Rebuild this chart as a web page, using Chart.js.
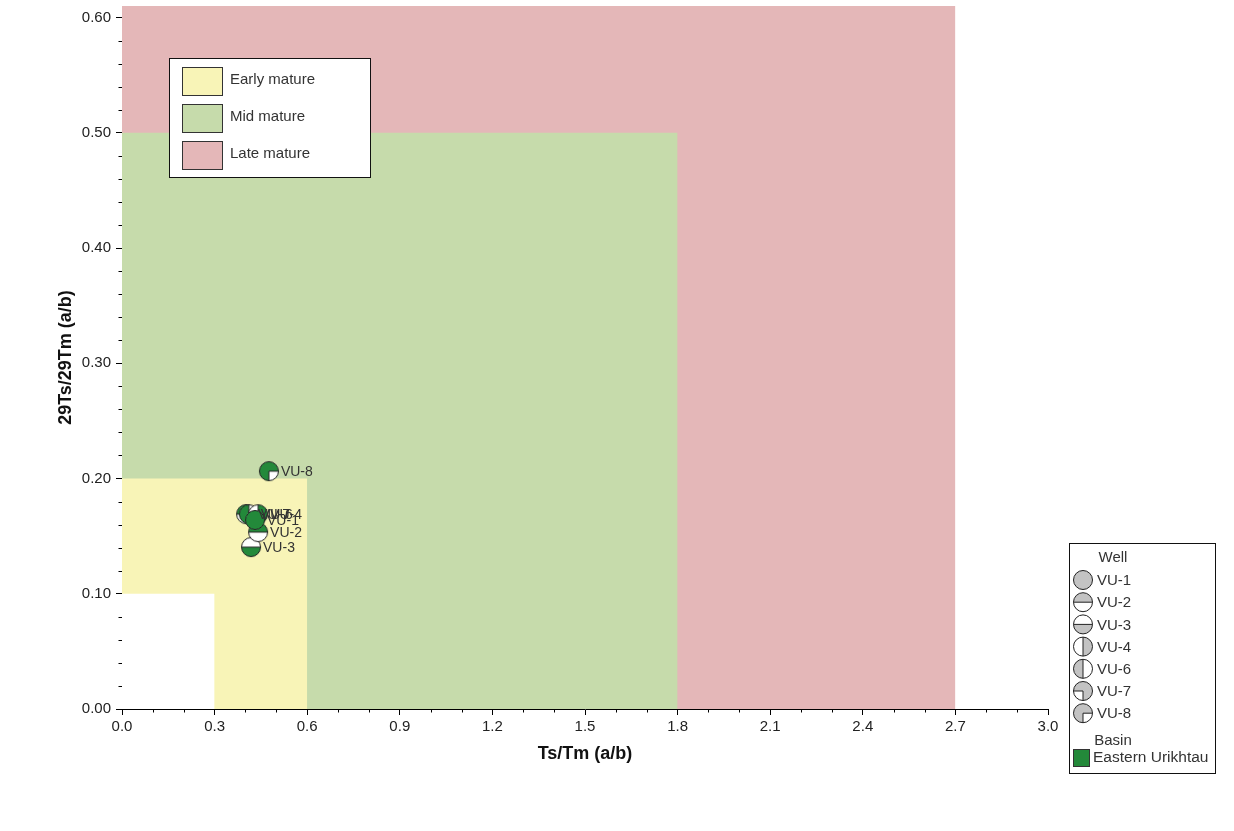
<!DOCTYPE html>
<html>
<head>
<meta charset="utf-8">
<title>Ts/Tm vs 29Ts/29Tm</title>
<script src="https://cdn.jsdelivr.net/npm/chart.js@4.4.1/dist/chart.umd.min.js"></script>
<style>
  body { margin: 0; background: #fff; }
  #wrap { width: 1234px; height: 831px; position: relative; }
</style>
</head>
<body>
<div id="wrap"><canvas id="grafica"></canvas></div>
<script>
// datos de los pozos
const wellNames = ['VU-1', 'VU-2', 'VU-3', 'VU-4', 'VU-6', 'VU-7', 'VU-8'];
const wellTsTm = [0.431, 0.441, 0.418, 0.441, 0.411, 0.402, 0.476];
const wellTs29 = [0.164, 0.1535, 0.1405, 0.169, 0.169, 0.1691, 0.2064];
const basinNames = ['Eastern Urikhtau'];

// zonas de madurez (de fuera hacia dentro)
const zoneNames = ['Late mature', 'Mid mature', 'Early mature', ''];
const zoneXMax = [2.7, 1.8, 0.6, 0.3];
const zoneYMax = [0.61, 0.5, 0.2, 0.1];

// ejes
const xMin = 0, xMax = 3.0, xStep = 0.1, xMajor = 0.3;
const yMin = 0, yMax = 0.61, yStep = 0.02, yMajor = 0.1;

// estilos
const zoneColors = ['#e4b7b8', '#c6dbab', '#f8f4b7', '#ffffff'];
const wellPatterns = ['full', 'top', 'bottom', 'right', 'left', 'noBL', 'noBR'];
const basinColor = '#23893a';
const legendGray = '#c3c3c3';
const txtColor = '#333333';
const FONT = '"Liberation Sans", Arial, sans-serif';

function esMayor(v, paso) {
  var r = v / paso;
  return Math.abs(r - Math.round(r)) < 1e-6;
}

//pinta el simbolo del pozo (circulo con partes blancas)
function pintarSimbolo(ctx, cx, cy, r, color, patron) {
  ctx.save();
  ctx.beginPath();
  ctx.arc(cx, cy, r, 0, Math.PI * 2);
  ctx.fillStyle = '#fff';
  ctx.fill();
  ctx.fillStyle = color;
  ctx.beginPath();
  if (patron == 'full' || patron == 'noBL' || patron == 'noBR') {
    ctx.arc(cx, cy, r, 0, Math.PI * 2);
  } else if (patron == 'top') {
    ctx.arc(cx, cy, r, Math.PI, Math.PI * 2);
  } else if (patron == 'bottom') {
    ctx.arc(cx, cy, r, 0, Math.PI);
  } else if (patron == 'right') {
    ctx.arc(cx, cy, r, -Math.PI / 2, Math.PI / 2);
  } else if (patron == 'left') {
    ctx.arc(cx, cy, r, Math.PI / 2, Math.PI * 1.5);
  }
  ctx.closePath();
  ctx.fill();
  ctx.strokeStyle = '#222';
  ctx.lineWidth = 1;
  if (patron == 'noBL' || patron == 'noBR') {
    ctx.fillStyle = '#fff';
    ctx.beginPath();
    ctx.moveTo(cx, cy);
    if (patron == 'noBL') ctx.arc(cx, cy, r, Math.PI / 2, Math.PI);
    else ctx.arc(cx, cy, r, 0, Math.PI / 2);
    ctx.closePath();
    ctx.fill();
    ctx.beginPath();
    ctx.moveTo(cx, cy + r);
    ctx.lineTo(cx, cy);
    ctx.lineTo(patron == 'noBL' ? cx - r : cx + r, cy);
    ctx.stroke();
  }
  if (patron == 'top' || patron == 'bottom') {
    ctx.beginPath();
    ctx.moveTo(cx - r, cy);
    ctx.lineTo(cx + r, cy);
    ctx.stroke();
  }
  if (patron == 'left' || patron == 'right') {
    ctx.beginPath();
    ctx.moveTo(cx, cy - r);
    ctx.lineTo(cx, cy + r);
    ctx.stroke();
  }
  ctx.beginPath();
  ctx.arc(cx, cy, r, 0, Math.PI * 2);
  ctx.stroke();
  ctx.restore();
}

function crearIcono(color, patron) {
  var c = document.createElement('canvas');
  c.width = 22;
  c.height = 22;
  pintarSimbolo(c.getContext('2d'), 11, 11, 9.5, color, patron);
  return c;
}

// datasets de las zonas
var datasets = [];
zoneNames.forEach((nombre, i) => {
  datasets.push({
    label: nombre || 'zona',
    data: [{x: 0, y: zoneYMax[i]}, {x: zoneXMax[i], y: zoneYMax[i]}, {x: zoneXMax[i], y: 0}],
    showLine: true,
    fill: 'origin',
    backgroundColor: zoneColors[i],
    borderWidth: 0,
    pointRadius: 0,
    order: zoneNames.length - i,
    esZona: true
  });
});

// datasets de los pozos
wellNames.forEach((nombre, i) => {
  datasets.push({
    label: nombre,
    data: [{x: wellTsTm[i], y: wellTs29[i]}],
    pointStyle: crearIcono(basinColor, wellPatterns[i]),
    order: 0
  });
});

// etiquetas junto a los puntos
const etiquetasPlugin = {
  id: 'etiquetas',
  afterDatasetsDraw(chart) {
    var ctx = chart.ctx;
    ctx.save();
    ctx.font = '14px ' + FONT;
    ctx.fillStyle = txtColor;
    ctx.textBaseline = 'middle';
    chart.data.datasets.forEach((ds, i) => {
      if (ds.esZona) return;
      var p = chart.getDatasetMeta(i).data[0];
      ctx.fillText(ds.label, p.x + 12, p.y + 1);
    });
    ctx.restore();
  }
};

// ticks menores
const ticksMenores = {
  id: 'ticksMenores',
  afterDraw(chart) {
    var ctx = chart.ctx;
    var xs = chart.scales.x, ys = chart.scales.y;
    var a = chart.chartArea;
    ctx.save();
    ctx.strokeStyle = '#000';
    ctx.lineWidth = 1;
    ctx.beginPath();
    xs.ticks.forEach(t => {
      if (esMayor(t.value, xMajor)) return;
      var px = Math.round(xs.getPixelForValue(t.value)) + 0.5;
      ctx.moveTo(px, a.bottom);
      ctx.lineTo(px, a.bottom + 3.5);
    });
    ys.ticks.forEach(t => {
      if (esMayor(t.value, yMajor)) return;
      var py = Math.round(ys.getPixelForValue(t.value)) + 0.5;
      ctx.moveTo(a.left, py);
      ctx.lineTo(a.left - 3.5, py);
    });
    ctx.stroke();
    ctx.restore();
  }
};

// leyendas
const leyendas = {
  id: 'leyendas',
  afterDraw(chart) {
    var ctx = chart.ctx;
    var a = chart.chartArea;
    ctx.save();
    ctx.font = '15px ' + FONT;
    ctx.textBaseline = 'middle';
    ctx.lineWidth = 1;

    // leyenda de zonas
    var lx = a.left + 47, ly = a.top + 52;
    ctx.fillStyle = '#fff';
    ctx.fillRect(lx, ly, 201, 119);
    ctx.strokeStyle = '#111';
    ctx.strokeRect(lx + 0.5, ly + 0.5, 201, 119);
    var orden = [2, 1, 0];
    orden.forEach((z, k) => {
      var sy = ly + 9 + k * 37;
      ctx.fillStyle = zoneColors[z];
      ctx.fillRect(lx + 13, sy, 40, 28);
      ctx.strokeStyle = '#333';
      ctx.strokeRect(lx + 13.5, sy + 0.5, 40, 28);
      ctx.fillStyle = txtColor;
      ctx.textAlign = 'left';
      ctx.fillText(zoneNames[z], lx + 61, sy + 13);
    });

    // leyenda de pozos y cuenca
    var rx = a.right + 21, ry = a.bottom - 166;
    ctx.fillStyle = '#fff';
    ctx.fillRect(rx, ry, 146, 230);
    ctx.strokeStyle = '#111';
    ctx.strokeRect(rx + 0.5, ry + 0.5, 146, 230);
    ctx.fillStyle = txtColor;
    ctx.textAlign = 'center';
    ctx.fillText('Well', rx + 44, ry + 15);
    ctx.textAlign = 'left';
    wellNames.forEach((nombre, i) => {
      var cy = ry + 37 + i * 22.2;
      pintarSimbolo(ctx, rx + 14, cy, 9.5, legendGray, wellPatterns[i]);
      ctx.fillStyle = txtColor;
      ctx.fillText(nombre, rx + 28, cy + 1);
    });
    ctx.textAlign = 'center';
    ctx.fillText('Basin', rx + 44, ry + 198);
    ctx.textAlign = 'left';
    ctx.font = '15.5px ' + FONT;
    basinNames.forEach((nombre, i) => {
      var by = ry + 206 + i * 22;
      ctx.fillStyle = basinColor;
      ctx.fillRect(rx + 4, by, 16, 17);
      ctx.strokeStyle = '#333';
      ctx.strokeRect(rx + 4.5, by + 0.5, 16, 17);
      ctx.fillStyle = txtColor;
      ctx.fillText(nombre, rx + 24, by + 9);
    });
    ctx.restore();
  }
};

const config = {
  type: 'scatter',
  data: { datasets: datasets },
  options: {
    responsive: true,
    maintainAspectRatio: false,
    animation: false,
    events: [],
    layout: { padding: { top: 6, right: 186, left: 0, bottom: 0 } },
    plugins: {
      legend: { display: false },
      tooltip: { enabled: false }
    },
    scales: {
      x: {
        type: 'linear',
        min: xMin,
        max: xMax,
        afterFit: s => { s.height = 122; s.paddingLeft = 0; s.paddingRight = 0; },
        border: { color: '#000', width: 1 },
        grid: {
          drawOnChartArea: false,
          tickLength: 6,
          tickColor: c => (c.tick && esMayor(c.tick.value, xMajor)) ? '#000' : 'rgba(0,0,0,0)'
        },
        ticks: {
          stepSize: xStep,
          includeBounds: false,
          autoSkip: false,
          maxRotation: 0,
          padding: 3,
          color: '#222',
          font: { family: FONT, size: 15 },
          callback: v => esMayor(v, xMajor) ? v.toFixed(1) : ''
        },
        title: {
          display: true,
          text: 'Ts/Tm (a/b)',
          color: '#111',
          font: { family: FONT, size: 18, weight: 'bold' },
          padding: { top: 0, bottom: 66 }
        }
      },
      y: {
        type: 'linear',
        min: yMin,
        max: yMax,
        afterFit: s => { s.width = 122; s.paddingTop = 0; s.paddingBottom = 0; },
        border: { color: '#000', width: 1 },
        grid: {
          drawOnChartArea: false,
          tickLength: 6,
          tickColor: c => (c.tick && esMayor(c.tick.value, yMajor)) ? '#000' : 'rgba(0,0,0,0)'
        },
        ticks: {
          stepSize: yStep,
          includeBounds: false,
          autoSkip: false,
          padding: 5,
          color: '#222',
          font: { family: FONT, size: 15 },
          callback: v => esMayor(v, yMajor) ? v.toFixed(2) : ''
        },
        title: {
          display: true,
          text: '29Ts/29Tm (a/b)',
          color: '#111',
          font: { family: FONT, size: 18, weight: 'bold' },
          padding: { top: 55, bottom: 0 }
        }
      }
    }
  },
  plugins: [etiquetasPlugin, ticksMenores, leyendas]
};

var myChart = new Chart(document.getElementById('grafica'), config);
</script>
</body>
</html>
